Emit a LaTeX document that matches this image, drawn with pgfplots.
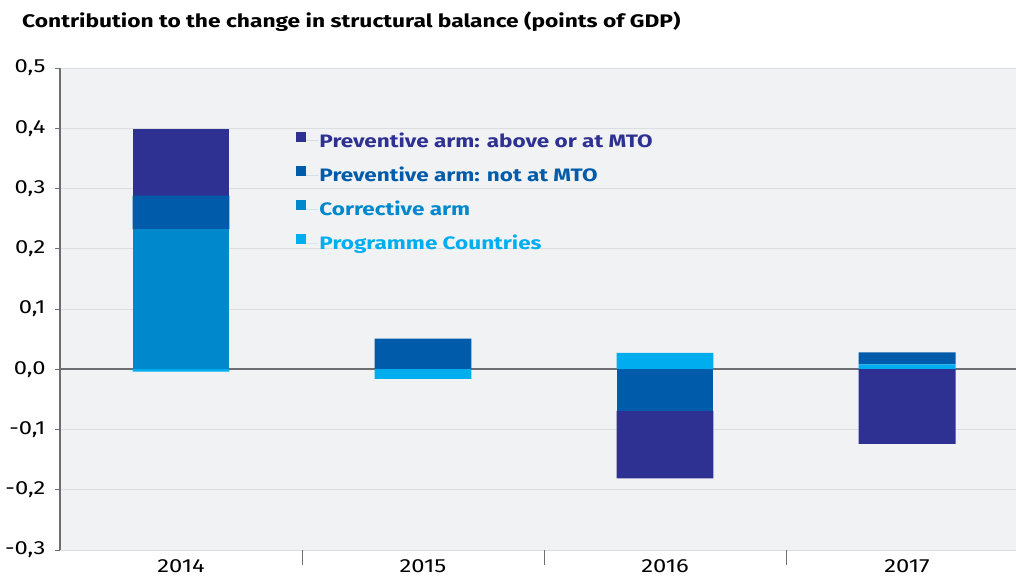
\documentclass[border=0pt]{standalone}
\usepackage{pgfplots}
\pgfplotsset{compat=1.18}
\usepackage{fontspec}
\setmainfont{Fira Sans}[FakeStretch=1.25]
\definecolor{cAbove}{HTML}{2E3192}
\definecolor{cNot}{HTML}{005BAA}
\definecolor{cCorr}{HTML}{0088CC}
\definecolor{cProg}{HTML}{00AEEF}
\definecolor{bg}{HTML}{F1F2F4}
\definecolor{gridc}{HTML}{DCDDE0}
\definecolor{axc}{HTML}{6D6E71}
\pgfplotsset{
  common/.style={
    at={(60bp,30bp)}, anchor=south west,
    scale only axis, width=956bp, height=482bp,
    ybar stacked, bar width=0.4,
    xmin=-0.5, xmax=3.45,
    ymin=-0.3, ymax=0.5,
  }
}
\begin{document}
\begin{tikzpicture}
\useasboundingbox (0,0) rectangle (1016bp,580bp);
\node[anchor=base west, inner sep=0pt, font=\fontsize{18.2bp}{22bp}\selectfont\bfseries] at (22bp,552bp) {Contribution to the change in structural balance (points of GDP)};
\begin{axis}[
  common,
  ytick={-0.3,-0.2,...,0.5},
  xtick={0,1,2,3},
  xticklabels={2014,2015,2016,2017},
  axis background/.style={fill=bg},
  axis y line*=left,
  axis x line*=bottom,
  y axis line style={draw=axc, line width=1.6bp, -},
  x axis line style={draw=gridc, line width=1bp, -},
  ymajorgrids, major grid style={draw=gridc, line width=1bp},
  tick align=outside,
  major tick length=5bp,
  ytick style={draw=axc, line width=0.8bp},
  xtick style={draw=none},
  extra x ticks={0.5,1.5,2.5},
  extra x tick labels={},
  extra x tick style={major tick length=15bp, xtick style={draw=axc, line width=0.8bp}, grid=none},
  extra y ticks={0},
  extra y tick labels={},
  extra y tick style={major grid style={draw=axc, line width=1.8bp}, ytick style={draw=none}},
  /pgf/number format/assume math mode=true,
  /pgf/number format/.cd, use comma, fixed, fixed zerofill, precision=1, /pgfplots/.cd,
  yticklabel style={font=\fontsize{19bp}{20bp}\selectfont, xshift=-6bp},
  xticklabel style={font=\fontsize{19bp}{20bp}\selectfont, yshift=-1bp},
  reverse legend,
  legend cell align=left,
  legend image code/.code={\path (0bp,0bp) -- (20bp,0bp); \fill[#1] (-2bp,-1bp) rectangle (8bp,9bp);},
  legend style={at={(0.244,0.872)}, anchor=north west, draw=none, fill=none,
     font=\fontsize{18bp}{22bp}\selectfont\bfseries, row sep=16bp,
     nodes={inner sep=1bp}},
]
% positive stack
\addplot[fill=cProg, draw=none] coordinates {(0,0) (1,0) (2,0.027) (3,0.008)};
\addplot[fill=cCorr, draw=none] coordinates {(0,0.232) (1,0) (2,0) (3,0)};
\addplot[fill=cNot, draw=none] coordinates {(0,0.056) (1,0.051) (2,0) (3,0.020)};
\addplot[fill=cAbove, draw=none] coordinates {(0,0.110) (1,0) (2,0) (3,0)};
\legend{\textcolor{cProg}{Programme Countries},\textcolor{cCorr}{Corrective arm},\textcolor{cNot}{Preventive arm: not at MTO},\textcolor{cAbove}{Preventive arm: above or at MTO}}
\end{axis}
\begin{axis}[common, hide axis]
% negative stack
\addplot[fill=cProg, draw=none] coordinates {(0,-0.004) (1,-0.016) (2,0) (3,0)};
\addplot[fill=cNot, draw=none] coordinates {(0,0) (1,0) (2,-0.069) (3,0)};
\addplot[fill=cAbove, draw=none] coordinates {(0,0) (1,0) (2,-0.112) (3,-0.124)};
\end{axis}
\end{tikzpicture}
\end{document}
